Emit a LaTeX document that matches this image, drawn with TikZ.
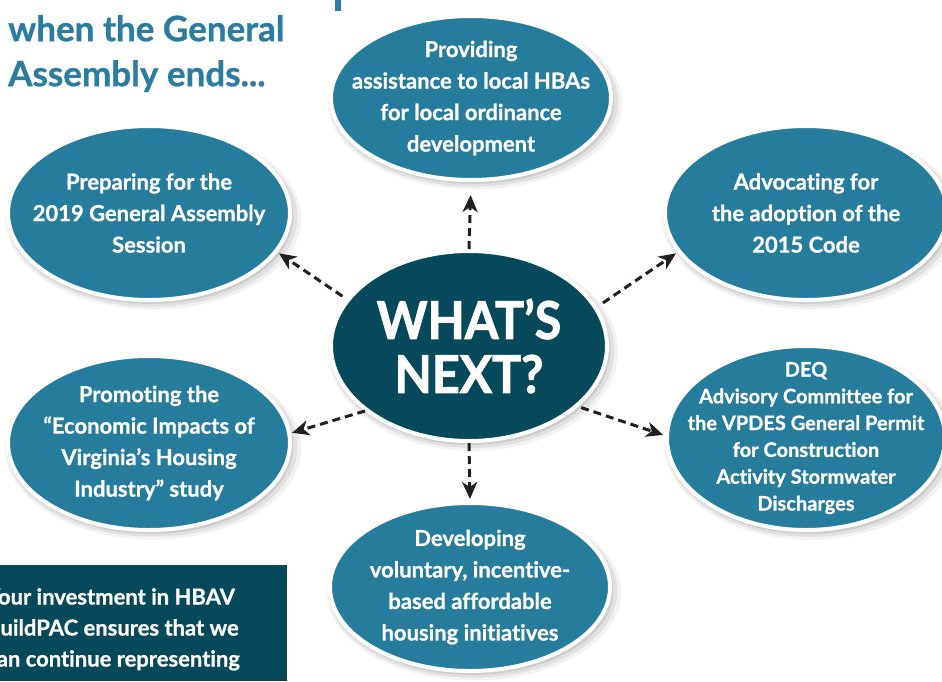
\documentclass[tikz,border=0pt]{standalone}
\usepackage{fontspec}
\setmainfont{Lato}
\newfontfamily\heavyfont{Lato}[BoldFeatures={FakeBold=1.8}]
\newfontfamily\titlefont{Lato}[Ligatures=NoCommon, BoldFeatures={FakeBold=0.8}]
\usepackage{tikz}
\usetikzlibrary{shapes, shadows, arrows.meta, positioning}

\definecolor{hbteal}{HTML}{267C9C}
\definecolor{hbdark}{HTML}{05495A}
\definecolor{hbtitle}{HTML}{2A7DA0}
\definecolor{hbarrow}{HTML}{231F20}

\tikzset{
  bubble/.style={ellipse, fill=hbteal, draw=white, line width=4pt, text=white,
    align=center, inner sep=-40pt, font=\titlefont\bfseries\fontsize{22}{31.5}\selectfont,
    general shadow={fill=black, opacity=.05, shadow scale=1.05, shadow xshift=4pt, shadow yshift=-5pt},
    general shadow={fill=black, opacity=.07, shadow scale=1.03, shadow xshift=3pt, shadow yshift=-4pt},
    general shadow={fill=black, opacity=.09, shadow scale=1.01, shadow xshift=2pt, shadow yshift=-3pt}},
  hub/.style={bubble, fill=hbdark},
  pointer/.style={draw=hbarrow, line width=3pt, dash pattern=on 8pt off 5pt,
    -{Stealth[length=17pt, width=15pt, inset=5pt]}}
}

\begin{document}
\begin{tikzpicture}[x=1pt, y=-1pt]
\useasboundingbox (0,0) rectangle (942,681);

% title, cut off at the top
\fill[hbtitle] (335,0) rectangle (341,11);
\node[anchor=north west, align=left, inner sep=0pt, text=hbtitle,
      font=\titlefont\bfseries\fontsize{35}{45}\selectfont] (title) at (8,15)
      {when the General\\Assembly ends...};

% the six topics
\node[bubble, minimum width=280pt, minimum height=164pt] (assist) at (471,98)
      {Providing\\assistance to local HBAs\\for local ordinance\\development};
\node[bubble, minimum width=282pt, minimum height=174pt] (prep) at (149,213)
      {Preparing for the\\2019 General Assembly\\Session};
\node[bubble, minimum width=282pt, minimum height=174pt] (adv) at (806,213)
      {Advocating for\\the adoption of the\\2015 Code};
\node[bubble, minimum width=282pt, minimum height=174pt] (promo) at (149,443)
      {Promoting the\\“Economic Impacts of\\Virginia’s Housing\\Industry” study};
\node[bubble, minimum width=278pt, minimum height=184pt,
      font=\titlefont\bfseries\fontsize{20}{26.8}\selectfont] (deq) at (806,438)
      {DEQ\\Advisory Committee for\\the VPDES General Permit\\for Construction\\Activity Stormwater\\Discharges};
\node[bubble, minimum width=280pt, minimum height=168pt] (dev) at (470,587)
      {Developing\\voluntary, incentive-\\based affordable\\housing initiatives};

% centre
\node[hub, minimum width=276pt, minimum height=190pt,
      font=\heavyfont\bfseries\fontsize{52}{54}\selectfont] (next) at (469,346)
      {\scalebox{.93}[1]{WHAT’S}\\\scalebox{.93}[1]{NEXT?}};

\draw[pointer, shorten >=13pt] (next.90) -- (assist.-90);
\draw[pointer, shorten <=5pt, shorten >=2pt] (next.159) -- (prep.-17);
\draw[pointer, shorten <=7pt, shorten >=2pt] (next.17) -- (adv.-163);
\draw[pointer, shorten >=1pt] (next.212) -- (promo.4);
\draw[pointer, shorten <=3pt, shorten >=2pt] (next.-29) -- (deq.179);
\draw[pointer, shorten >=2pt] (next.-90) -- (dev.90);

% BuildPAC box
\fill[hbdark] (0,565) rectangle (287,681);
\begin{scope}
\clip (0,565) rectangle (287,681);
\node[anchor=north west, align=left, inner sep=0pt, text=white,
      font=\titlefont\bfseries\fontsize{22}{31}\selectfont] (invest) at (-14,588)
      {Your investment in HBAV\\BuildPAC ensures that we\\can continue representing};
\end{scope}

\end{tikzpicture}
\end{document}
